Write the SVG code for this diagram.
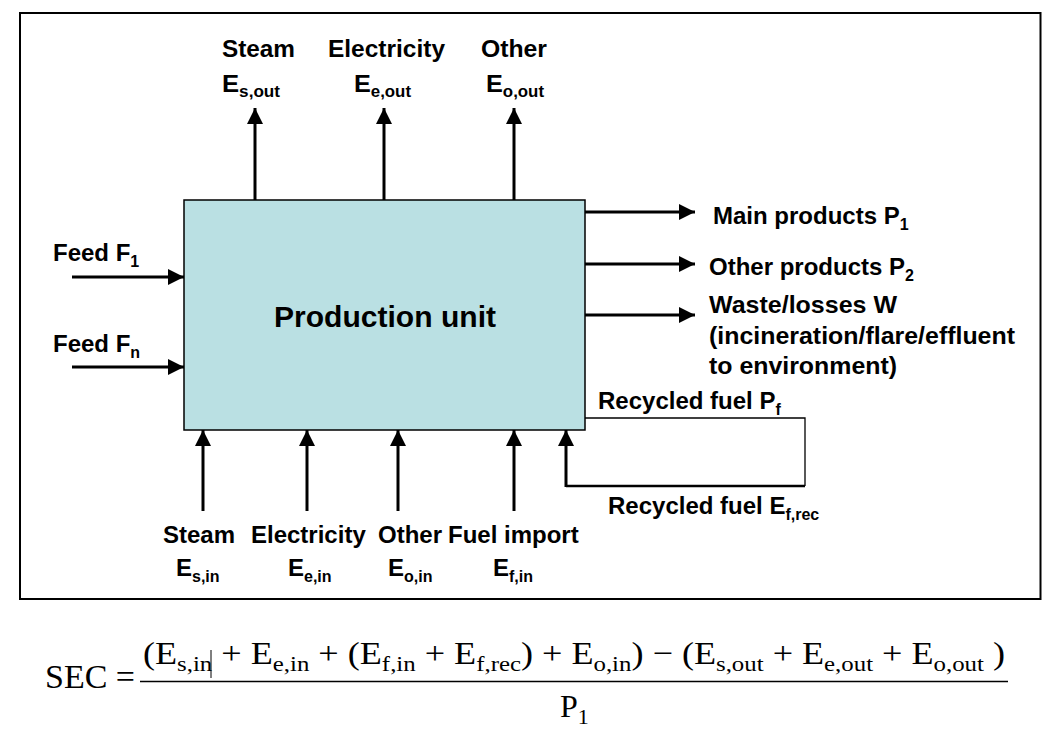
<svg xmlns="http://www.w3.org/2000/svg" width="1056" height="738" viewBox="0 0 1056 738">
<defs>
<marker id="ah" markerUnits="userSpaceOnUse" markerWidth="18" markerHeight="16" refX="16" refY="8" orient="auto">
<path d="M0,0 L16,8 L0,16 Z" fill="#000"/>
</marker>
<style>
.lbl{font-family:"Liberation Sans",Arial,sans-serif;font-weight:bold;font-size:24px;fill:#000}
.sub{font-size:16px}
.nar{font-family:"Liberation Sans",Arial,sans-serif;font-weight:bold;font-size:24px;fill:#000}
.arr{stroke:#000;stroke-width:3;fill:none;marker-end:url(#ah)}
.thin{stroke:#000;stroke-width:1.3;fill:none}
.math{font-family:"Liberation Serif","Times New Roman",serif;font-size:32px;fill:#000}
.msub{font-size:22px}
</style>
</defs>
<rect width="1056" height="738" fill="#fff"/>
<rect x="20" y="13" width="1020.5" height="586" fill="none" stroke="#000" stroke-width="2"/>

<g id="connectors">
<line class="arr" x1="255" y1="203" x2="255" y2="108"/>
<line class="arr" x1="384" y1="203" x2="384" y2="108"/>
<line class="arr" x1="514" y1="203" x2="514" y2="108"/>
<line class="arr" x1="72" y1="277" x2="184" y2="277"/>
<line class="arr" x1="72" y1="367" x2="184" y2="367"/>
<line class="arr" x1="585" y1="212" x2="695" y2="212"/>
<line class="arr" x1="585" y1="264" x2="695" y2="264"/>
<line class="arr" x1="585" y1="315" x2="695" y2="315"/>
<line class="arr" x1="203" y1="511" x2="203" y2="430"/>
<line class="arr" x1="307" y1="511" x2="307" y2="430"/>
<line class="arr" x1="398" y1="511" x2="398" y2="430"/>
<line class="arr" x1="514" y1="511" x2="514" y2="430"/>
<polyline class="thin" points="585,418 805,418 805,486"/>
<line x1="805" y1="486" x2="566" y2="486" stroke="#000" stroke-width="2.5"/>
<line class="arr" x1="566" y1="487" x2="566" y2="430"/>
</g>

<g id="production-unit">
<rect x="184" y="200" width="401" height="230" fill="#BAE0E3" stroke="#000" stroke-width="1.5"/>
<text class="lbl" x="274" y="327" textLength="222" lengthAdjust="spacingAndGlyphs" style="font-size:29px">Production unit</text>
</g>

<g id="steam-out">
<text class="nar" x="222" y="57" textLength="73" lengthAdjust="spacingAndGlyphs">Steam</text>
<text class="nar" x="222" y="92" textLength="58" lengthAdjust="spacingAndGlyphs">E<tspan class="sub" dy="5">s,out</tspan></text>
</g>
<g id="electricity-out">
<text class="nar" x="328" y="57" textLength="117" lengthAdjust="spacingAndGlyphs">Electricity</text>
<text class="nar" x="354" y="92" textLength="57" lengthAdjust="spacingAndGlyphs">E<tspan class="sub" dy="5">e,out</tspan></text>
</g>
<g id="other-out">
<text class="nar" x="481" y="57" textLength="66" lengthAdjust="spacingAndGlyphs">Other</text>
<text class="nar" x="486" y="92" textLength="58" lengthAdjust="spacingAndGlyphs">E<tspan class="sub" dy="5">o,out</tspan></text>
</g>

<g id="feed-1">
<text class="lbl" x="53" y="261">Feed F<tspan class="sub" dy="6">1</tspan></text>
</g>
<g id="feed-n">
<text class="lbl" x="53" y="352">Feed F<tspan class="sub" dy="6">n</tspan></text>
</g>

<g id="main-products">
<text class="lbl" x="713" y="224">Main products P<tspan class="sub" dy="6">1</tspan></text>
</g>
<g id="other-products">
<text class="lbl" x="709" y="275">Other products P<tspan class="sub" dy="6">2</tspan></text>
</g>
<g id="waste">
<text class="lbl" x="709" y="313" textLength="188" lengthAdjust="spacingAndGlyphs">Waste/losses W</text>
<text class="lbl" x="709" y="344" textLength="306" lengthAdjust="spacingAndGlyphs">(incineration/flare/effluent</text>
<text class="lbl" x="709" y="374" textLength="188" lengthAdjust="spacingAndGlyphs">to environment)</text>
</g>
<g id="recycled-fuel-p">
<text class="lbl" x="598" y="409">Recycled fuel P<tspan class="sub" dy="6">f</tspan></text>
</g>
<g id="recycled-fuel-e">
<text class="lbl" x="608" y="514">Recycled fuel E<tspan class="sub" dy="6">f,rec</tspan></text>
</g>

<g id="steam-in">
<text class="lbl" x="163" y="543">Steam</text>
<text class="lbl" x="176" y="576">E<tspan class="sub" dy="6">s,in</tspan></text>
</g>
<g id="electricity-in">
<text class="lbl" x="251" y="543">Electricity</text>
<text class="lbl" x="288" y="576">E<tspan class="sub" dy="6">e,in</tspan></text>
</g>
<g id="other-in">
<text class="lbl" x="378" y="543">Other</text>
<text class="lbl" x="388" y="576">E<tspan class="sub" dy="6">o,in</tspan></text>
</g>
<g id="fuel-import">
<text class="lbl" x="448" y="543">Fuel import</text>
<text class="lbl" x="493" y="576">E<tspan class="sub" dy="6">f,in</tspan></text>
</g>

<g id="formula">
<text class="math" x="45" y="688" style="font-size:34px">SEC =</text>
<line x1="140" y1="681.5" x2="1008" y2="681.5" stroke="#000" stroke-width="1.5"/>
<text class="math" x="143" y="664" textLength="862" lengthAdjust="spacingAndGlyphs">(E<tspan class="msub" dy="7">s,in</tspan><tspan dy="-7"> + E</tspan><tspan class="msub" dy="7">e,in</tspan><tspan dy="-7"> + (E</tspan><tspan class="msub" dy="7">f,in</tspan><tspan dy="-7"> + E</tspan><tspan class="msub" dy="7">f,rec</tspan><tspan dy="-7">) + E</tspan><tspan class="msub" dy="7">o,in</tspan><tspan dy="-7">) − (E</tspan><tspan class="msub" dy="7">s,out</tspan><tspan dy="-7"> + E</tspan><tspan class="msub" dy="7">e,out</tspan><tspan dy="-7"> + E</tspan><tspan class="msub" dy="7">o,out</tspan><tspan dy="-7"> )</tspan></text>
<line x1="211" y1="650" x2="211" y2="678" stroke="#000" stroke-width="1"/>
<text class="math" x="560" y="717">P<tspan class="msub" dy="7">1</tspan></text>
</g>
</svg>
